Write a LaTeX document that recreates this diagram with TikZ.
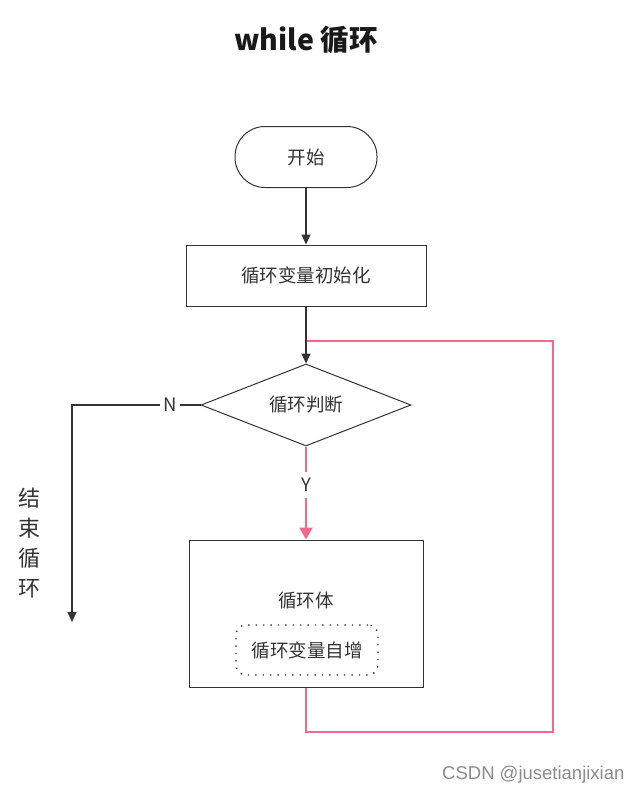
\documentclass[tikz,border=0pt]{standalone}
\usepackage{fontspec}
\setmainfont{Noto Sans CJK SC}
\newfontfamily\wmfont{Liberation Sans}
\usetikzlibrary{arrows.meta,shapes.geometric}
\definecolor{lndark}{HTML}{333333}
\definecolor{lnpink}{HTML}{F5688E}
\definecolor{wmgray}{HTML}{8C8C8C}

\begin{document}
\begin{tikzpicture}[x=1pt, y=-1pt,
    txt/.style={font=\fontsize{18.5}{21}\selectfont, text=lndark},
    box/.style={txt, draw=lndark, line width=1pt, inner sep=0pt},
    cond/.style={txt, draw=lndark, line width=1pt, shape=diamond, aspect=2.56,
                 inner sep=0pt, minimum width=210pt, minimum height=82pt},
    lbl/.style={txt, fill=white, inner sep=3pt},
    arr/.style={-{Triangle[length=10pt, width=9pt]}, line width=1.2pt, color=lndark},
    backline/.style={line width=2.5pt, color=lnpink},
    yarr/.style={-{Triangle[length=12pt, width=13pt]}, line width=2.5pt, color=lnpink}
]
  \useasboundingbox[fill=white] (0,0) rectangle (641,795);
  \node[font=\fontsize{28.5}{32}\selectfont\bfseries, text=black!90] (title) at (306,40) {while 循环};
  \node[box, rounded corners=30pt, minimum width=142pt, minimum height=61pt] (start) at (306,157) {开始};
  \node[box, minimum width=240pt, minimum height=61pt] (init) at (306,275.5) {循环变量初始化};
  \node[cond] (judge) at (306,405) {循环判断};
  \node[box, minimum width=234pt, minimum height=147pt] (body) at (306,613.5) {};
  \node[txt] (bodytxt) at (306,601) {循环体};
  \node[box, draw=lndark, line width=1.4pt, dash pattern=on 1.4pt off 6pt, rounded corners=10pt,
        minimum width=142pt, minimum height=50pt] (incr) at (307,650) {循环变量自增};
  \coordinate (loopin) at (306,341);
  \coordinate (backdn) at (553,732);
  \coordinate (backup) at (553,341);
  \coordinate (nturn) at (72,405);
  \coordinate (nend) at (72,622);
  % loop back
  \draw[backline] (body.south) |- (backdn) -- (backup) -- (loopin);
  \draw[arr] (start.south) -- (init.north);
  \draw[arr] (init.south) -- (judge.north);
  % Y branch
  \draw[yarr] (judge.south) -- (body.north);
  \node[lbl, inner ysep=6pt] (ylbl) at (306,485) {Y};
  % N branch
  \draw[arr] (judge.west) -- (nturn) -- (nend);
  \node[lbl] (nlbl) at (170,405) {N};
  \node[txt, font=\fontsize{22}{30}\selectfont, align=center] (exit) at (29,543) {结\\束\\循\\环};
  \node[font=\wmfont\fontsize{18.5}{20}\selectfont, text=wmgray, anchor=east] (wm) at (628,775) {CSDN @jusetianjixian};
\end{tikzpicture}
\end{document}
